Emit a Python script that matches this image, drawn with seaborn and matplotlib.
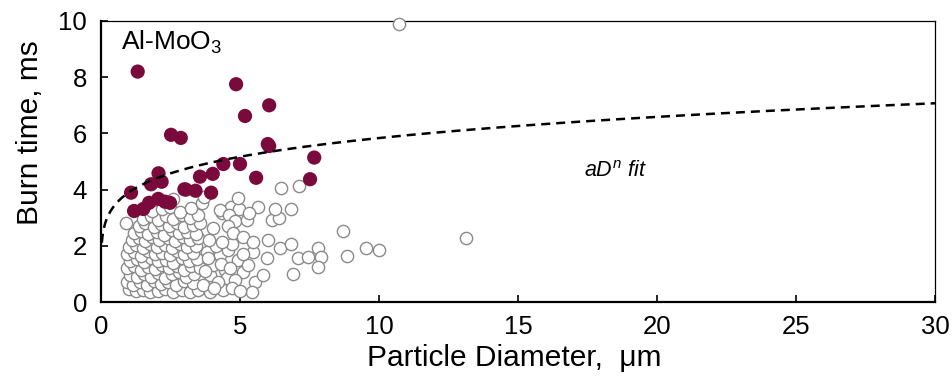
import matplotlib
matplotlib.use("Agg")
import matplotlib.pyplot as plt
import seaborn as sns
import numpy as np
import pandas as pd

# ---------------- data ----------------
# open circles (all measured particles)
open_x = [
    1.0, 1.25, 1.5, 1.75, 2.05, 2.3, 2.6, 2.9, 3.2, 3.5,
    0.95, 1.15, 1.4, 1.65, 1.9, 2.15, 2.4, 2.7, 3.0, 3.3,
    1.05, 1.3, 1.55, 1.8, 2.05, 2.3, 2.55, 2.8, 3.05, 3.35,
    0.95, 1.2, 1.45, 1.7, 1.95, 2.2, 2.45, 2.75, 3.0, 3.25, 3.55,
    1.05, 1.3, 1.55, 1.8, 2.05, 2.35, 2.6, 2.9, 3.15, 3.45,
    0.95, 1.2, 1.45, 1.7, 1.95, 2.2, 2.5, 2.75, 3.0, 3.3,
    1.0, 1.25, 1.5, 1.75, 2.0, 2.3, 2.55, 2.85, 3.1, 3.4,
    1.1, 1.35, 1.6, 1.85, 2.1, 2.4, 2.65, 2.95, 3.2, 3.5,
    1.2, 1.45, 1.7, 2.0, 2.25, 2.55, 2.8, 3.1, 3.4,
    0.9, 1.35, 1.6, 1.9, 2.15, 2.45, 2.75, 3.0, 3.3, 3.56,
    1.5, 1.8, 2.05, 2.35, 2.6, 2.9, 3.2, 3.5,
    1.85, 2.2, 2.5, 2.85, 3.25, 3.62,
    2.6, 3.70,
    3.80, 4.28, 4.58, 4.92, 5.48, 5.96, 6.44, 3.92, 4.46, 4.52,
    5.12, 5.54, 5.84, 5.42, 3.92, 4.40, 4.82, 3.68, 4.04,
    3.85, 4.15, 4.70, 4.20, 4.05, 4.70, 5.00, 4.30, 3.75, 4.65, 5.30, 5.10, 3.90,
    4.66, 4.96, 4.34, 4.28, 4.62, 4.82, 5.24, 6.14, 6.42, 4.04,
    4.58, 4.76, 5.12, 5.48, 6.02, 4.34,
    4.92, 5.66, 5.34, 6.26, 6.83, 6.46, 7.12,
    6.83, 7.07, 7.43, 6.92,
    8.72, 13.13, 9.53, 10.01, 8.84, 7.79, 7.91, 7.79, 10.72,
]
open_y = [
    0.45, 0.38, 0.42, 0.35, 0.40, 0.45, 0.37, 0.42, 0.36, 0.44,
    0.70, 0.62, 0.72, 0.60, 0.75, 0.65, 0.70, 0.62, 0.74, 0.66,
    0.95, 0.88, 1.00, 0.90, 1.02, 0.87, 0.98, 1.05, 0.90, 1.00,
    1.20, 1.28, 1.15, 1.25, 1.18, 1.30, 1.20, 1.27, 1.15, 1.28, 1.20,
    1.45, 1.52, 1.42, 1.55, 1.45, 1.50, 1.40, 1.55, 1.45, 1.52,
    1.70, 1.78, 1.65, 1.80, 1.70, 1.75, 1.68, 1.80, 1.70, 1.76,
    1.95, 2.02, 1.92, 2.05, 1.95, 2.02, 1.92, 2.05, 1.95, 2.00,
    2.20, 2.28, 2.18, 2.30, 2.20, 2.26, 2.16, 2.30, 2.20, 2.28,
    2.45, 2.52, 2.42, 2.50, 2.40, 2.55, 2.45, 2.50, 2.42,
    2.80, 2.72, 2.80, 2.68, 2.78, 2.70, 2.80, 2.68, 2.75, 2.80,
    2.95, 3.05, 2.92, 3.05, 2.95, 3.08, 3.00, 3.10,
    3.25, 3.30, 3.38, 3.22, 3.35, 3.51,
    3.65, 3.72,
    1.79, 1.67, 1.85, 1.49, 1.79, 1.55, 1.91, 0.96, 1.14, 0.84,
    1.08, 0.72, 0.96, 0.37, 0.37, 0.43, 0.78, 0.60, 1.32,
    1.55, 2.00, 2.05, 0.70, 0.50, 0.50, 0.40, 1.35, 1.10, 1.20, 1.30, 1.70, 2.20,
    3.39, 3.30, 3.15, 3.27, 3.10, 2.89, 2.92, 2.92, 2.98, 2.62,
    2.70, 2.44, 2.32, 2.15, 2.21, 2.15,
    3.71, 3.37, 3.16, 3.30, 3.30, 4.05, 4.14,
    2.05, 1.58, 1.61, 0.98,
    2.54, 2.27, 1.93, 1.85, 1.64, 1.91, 1.61, 1.26, 9.89,
]

# filled points
filled_x = [1.32, 4.86, 6.05, 5.18, 2.52, 2.87, 6.00, 6.05, 7.67, 4.40,
            5.00, 2.07, 5.58, 7.52, 1.80, 2.18, 3.56, 4.02, 1.08, 3.00,
            3.40, 3.96, 1.19, 1.52, 1.73, 2.06, 2.30, 2.48, 3.05]
filled_y = [8.20, 7.75, 7.00, 6.62, 5.95, 5.84, 5.62, 5.55, 5.14, 4.91,
            4.91, 4.58, 4.42, 4.37, 4.19, 4.28, 4.46, 4.56, 3.89, 4.01,
            3.96, 3.89, 3.24, 3.31, 3.53, 3.67, 3.57, 3.53, 4.00]

# fit parameters  t = a * D^n
fit_a = 3.9
fit_n = 0.175
fit_xmin, fit_xmax = 0.03, 30

x_ticks = [0, 5, 10, 15, 20, 25, 30]
y_ticks = [0, 2, 4, 6, 8, 10]

# ---------------- plot ----------------
sns.set_theme(style="white")
plt.rcParams['font.family'] = ['Liberation Sans', 'DejaVu Sans']
plt.rcParams['mathtext.fontset'] = 'custom'
plt.rcParams['mathtext.rm'] = 'Liberation Sans'
plt.rcParams['mathtext.it'] = 'Liberation Sans:italic'
plt.rcParams['mathtext.bf'] = 'Liberation Sans:bold'

fig = plt.figure(figsize=(9.53, 3.85), dpi=100)
ax = fig.add_axes([101/953, 83/385, 834/953, 281/385])

df_open = pd.DataFrame({"D": open_x, "t": open_y})
df_fill = pd.DataFrame({"D": filled_x, "t": filled_y})

sns.scatterplot(data=df_open, x="D", y="t", ax=ax, s=78, facecolor="white",
                edgecolor="#8a8a8a", linewidth=1.0, zorder=3, clip_on=False,
                legend=False)
sns.scatterplot(data=df_fill, x="D", y="t", ax=ax, s=105, color="#7B0A3C",
                edgecolor="none", linewidth=0, zorder=4, legend=False)

fit_D = np.geomspace(fit_xmin, fit_xmax, 400)
fit_t = fit_a * fit_D ** fit_n
sns.lineplot(x=fit_D, y=fit_t, ax=ax, color="black", linewidth=1.8,
             zorder=5, sort=False)
ax.lines[-1].set_dashes([3.6, 2.4])

ax.set_xlim(0, 30)
ax.set_ylim(0, 10)
ax.set_xticks(x_ticks)
ax.set_yticks(y_ticks)
ax.tick_params(axis='both', direction='in', length=5, width=1.2,
               colors='black', labelsize=18.5, left=True, bottom=True)
ax.tick_params(axis='y', pad=10)
ax.tick_params(axis='x', pad=9)

for side in ['left', 'bottom']:
    ax.spines[side].set_linewidth(1.6)
    ax.spines[side].set_color('black')
for side in ['top', 'right']:
    ax.spines[side].set_linewidth(0.9)
    ax.spines[side].set_color('black')
    ax.spines[side].set_visible(True)

ax.set_xlabel("Particle Diameter,  \u03bcm", fontsize=21.5, color='black')
ax.set_ylabel("Burn time, ms", fontsize=21.5, color='black')
ax.xaxis.label.set_va('center')
ax.yaxis.label.set_va('center')
ax.xaxis.set_label_coords(0.496, -0.2)
ax.yaxis.set_label_coords(-0.085, 0.603)

ax.text(0.72, 9.25, r"Al-MoO$_3$", fontsize=19, ha='left', va='center',
        color='black')
ax.text(17.37, 4.66, r"$\mathit{aD^{n}}$ $\mathit{fit}$", fontsize=15.5,
        ha='left', va='center', color='black')

fig.savefig("out.png", dpi=100)
